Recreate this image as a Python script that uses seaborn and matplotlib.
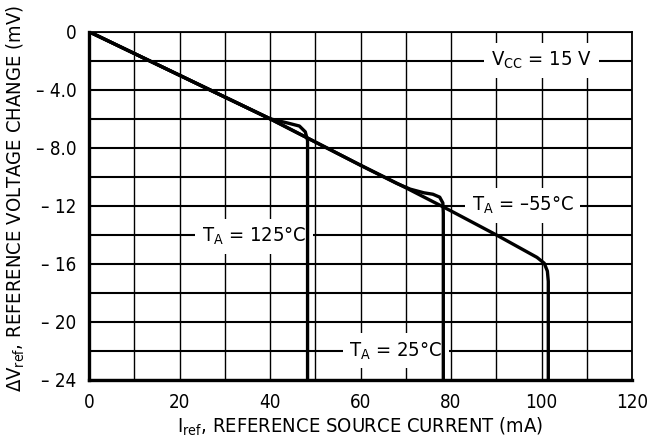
import matplotlib
matplotlib.use("Agg")
import matplotlib.pyplot as plt
from matplotlib import font_manager
from matplotlib.ticker import MultipleLocator, FixedLocator
import pandas as pd
import seaborn as sns

# curve data (mA, mV)
x_125 = [0, 20, 40, 44, 46.5, 47.8, 48.3, 48.3]
y_125 = [0, -3.0, -6.0, -6.3, -6.5, -6.9, -7.5, -24]

x_25 = [0, 20, 40, 50, 60, 68, 71, 74, 76, 77.5, 78.2, 78.3, 78.3]
y_25 = [0, -3.0, -6.0, -7.6, -9.2, -10.45, -10.85, -11.1, -11.2, -11.4, -11.8, -12.5, -24]

x_m55 = [0, 20, 40, 50, 60, 70, 80, 90, 99, 100.6, 101.3, 101.5, 101.5]
y_m55 = [0, -3.0, -6.0, -7.6, -9.2, -10.75, -12.35, -14.0, -15.55, -15.95, -16.5, -17.2, -24]

x_ticks = [0, 20, 40, 60, 80, 100, 120]
y_ticks = [0, -4, -8, -12, -16, -20, -24]
y_ticklabels = ["0", "– 4.0", "– 8.0", "– 12", "– 16", "– 20", "– 24"]

sns.set_style("white")

# look for a narrow sans face, the reference uses a condensed Helvetica
fam, stretch = "Liberation Sans", "normal"
for f in font_manager.fontManager.ttflist:
    if f.name == "Liberation Sans Narrow":
        fam, stretch = f.name, "normal"
        break
else:
    for f in font_manager.fontManager.ttflist:
        if f.name == "DejaVu Sans" and "Condensed" in f.fname and "Bold" not in f.fname \
                and "Oblique" not in f.fname:
            fam, stretch = "DejaVu Sans", "condensed"
            break
plt.rcParams["font.family"] = [fam, "DejaVu Sans"]
plt.rcParams["font.stretch"] = stretch
plt.rcParams["mathtext.fontset"] = "custom"
plt.rcParams["mathtext.rm"] = fam
for k in ["text.color", "axes.labelcolor", "xtick.color", "ytick.color"]:
    plt.rcParams[k] = "black"

fig = plt.figure(figsize=(6.47, 4.47), dpi=100)
ax = fig.add_axes([89 / 647, 1 - 380 / 447, 543 / 647, 348.3 / 447])

for xs, ys in [(x_125, y_125), (x_25, y_25), (x_m55, y_m55)]:
    d = pd.DataFrame({"x": xs, "y": ys})
    sns.lineplot(data=d, x="x", y="y", ax=ax, sort=False, estimator=None,
                 color="black", linewidth=2.4, zorder=6, solid_joinstyle="round")

ax.set_xlim(0, 120)
ax.set_ylim(-24, 0)
ax.xaxis.set_major_locator(FixedLocator(x_ticks))
ax.xaxis.set_minor_locator(MultipleLocator(10))
ax.yaxis.set_major_locator(FixedLocator(y_ticks))
ax.yaxis.set_minor_locator(MultipleLocator(2))
ax.set_yticklabels(y_ticklabels)

ax.xaxis.grid(True, which="both", color="black", linewidth=1.0)
ax.yaxis.grid(True, which="both", color="black", linewidth=1.5)
ax.set_axisbelow(True)
ax.tick_params(axis="both", which="both", length=0, labelsize=13.5, pad=9)

for s in ["left", "bottom"]:
    ax.spines[s].set_linewidth(2.4)
for s in ["top", "right"]:
    ax.spines[s].set_linewidth(1.3)
for s in ax.spines.values():
    s.set_color("black")
    s.set_zorder(7)

ax.set_xlabel(r"$\mathregular{I_{ref}}$, REFERENCE SOURCE CURRENT (mA)", fontsize=14.5, labelpad=3)
ax.set_ylabel(r"$\mathregular{\Delta V_{ref}}$, REFERENCE VOLTAGE CHANGE (mV)", fontsize=14.5)
ax.yaxis.set_label_coords(-0.115, 0.52)

box = dict(facecolor="white", edgecolor="none", pad=5)
ax.text(100, -2.0, r"$\mathregular{V_{CC}}$ = 15 V", fontsize=14.5, ha="center", va="center", bbox=box, zorder=5)
ax.text(95.8, -12.0, r"$\mathregular{T_A}$ = –55°C", fontsize=14.5, ha="center", va="center", bbox=box, zorder=5)
ax.text(36.5, -14.1, r"$\mathregular{T_A}$ = 125°C", fontsize=14.5, ha="center", va="center", bbox=box, zorder=5)
ax.text(67.8, -22.0, r"$\mathregular{T_A}$ = 25°C", fontsize=14.5, ha="center", va="center", bbox=box, zorder=5)

fig.savefig("out.png", dpi=100)
